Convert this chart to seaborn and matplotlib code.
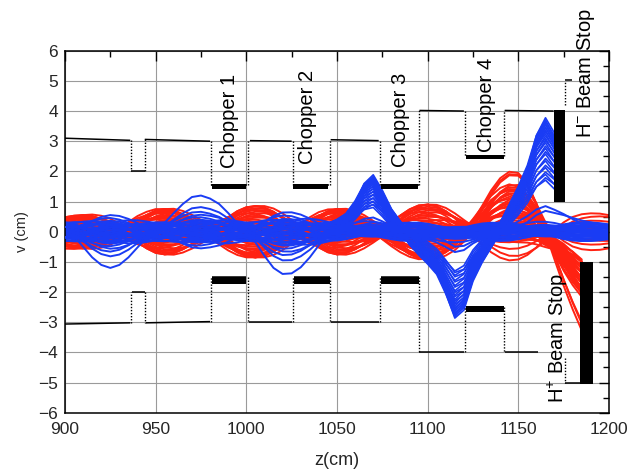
import matplotlib
matplotlib.use("Agg")
import matplotlib.pyplot as plt
from matplotlib.ticker import MultipleLocator
import numpy as np
import pandas as pd
import seaborn as sns

# ---------------- data ----------------
z_cm = [900, 905, 910, 915, 920, 925, 930, 935, 940, 945, 950, 955, 960, 965, 970,
        975, 980, 985, 990, 995, 1000, 1005, 1010, 1015, 1020, 1025, 1030, 1035, 1040,
        1045, 1050, 1055, 1060, 1065, 1070, 1075, 1080, 1085, 1090, 1095, 1100, 1105,
        1110, 1115, 1120, 1125, 1130, 1135, 1140, 1145, 1150, 1155, 1160, 1165, 1170,
        1175, 1180, 1185, 1190, 1195, 1200]

# red beam: cosine-like and sine-like principal rays, and end deflection ray
red_cos = [-0.48, -0.53, -0.55, -0.52, -0.42, -0.27, -0.08, 0.12, 0.35, 0.55, 0.70, 0.75,
           0.71, 0.58, 0.40, 0.20, 0.00, -0.24, -0.48, -0.68, -0.81, -0.85, -0.80, -0.66,
           -0.45, -0.20, 0.05, 0.30, 0.52, 0.68, 0.75, 0.71, 0.58, 0.39, 0.17, -0.05,
           -0.30, -0.54, -0.74, -0.87, -0.90, -0.84, -0.68, -0.45, -0.17, 0.12, 0.42,
           0.68, 0.86, 0.95, 0.92, 0.77, 0.52, 0.22, -0.06, -0.31, -0.49, -0.58, -0.61,
           -0.60, -0.55]
red_sin = [-0.08, -0.04, 0.00, 0.05, 0.11, 0.16, 0.19, 0.20, 0.17, 0.11, 0.05, 0.00,
           -0.05, -0.11, -0.16, -0.19, -0.20, -0.18, -0.14, -0.09, -0.04, 0.00, 0.05,
           0.11, 0.16, 0.19, 0.20, 0.18, 0.13, 0.06, 0.00, -0.05, -0.11, -0.16, -0.19,
           -0.20, -0.18, -0.14, -0.09, -0.04, 0.00, 0.05, 0.11, 0.16, 0.19, 0.20, 0.18,
           0.13, 0.07, 0.02, -0.03, -0.09, -0.15, -0.19, -0.20, -0.18, -0.13, -0.08,
           -0.04, 0.00, 0.04]
red_kick = [0, 0, 0, 0, 0, 0, 0, 0, 0, 0, 0, 0, 0, 0, 0, 0, 0, 0, 0, 0, 0, 0, 0, 0,
            0, 0, 0, 0, 0, 0, 0, 0, 0, 0, 0, 0, 0, 0, 0, 0, 0, 0, 0, 0,
            0.03, 0.10, 0.22, 0.38, 0.52, 0.60, 0.60, 0.50, 0.25, -0.10, -0.45, -0.80,
            -1.15, -1.50, -1.85, -2.20, -2.50]

# blue beam: principal rays and chopper kick ray
blue_cos = [0.05, -0.15, -0.50, -0.85, -1.10, -1.20, -1.10, -0.85, -0.52, -0.20, 0.05,
            0.30, 0.62, 0.92, 1.15, 1.20, 1.10, 0.92, 0.62, 0.28, 0.00, -0.35, -0.80,
            -1.20, -1.40, -1.38, -1.18, -0.85, -0.45, -0.10, 0.10, 0.22, 0.30, 0.35,
            0.34, 0.28, 0.19, 0.09, 0.00, -0.10, -0.20, -0.28, -0.33, -0.35, -0.33,
            -0.26, -0.17, -0.07, 0.03, 0.13, 0.22, 0.29, 0.33, 0.33, 0.29, 0.22, 0.13,
            0.04, -0.05, -0.13, -0.20]
blue_sin = [0.30, 0.30, 0.26, 0.18, 0.08, 0.00, -0.08, -0.17, -0.25, -0.29, -0.30,
            -0.28, -0.22, -0.14, -0.06, 0.00, 0.06, 0.15, 0.23, 0.28, 0.30, 0.28, 0.22,
            0.12, 0.03, -0.04, -0.13, -0.22, -0.28, -0.30, -0.28, -0.22, -0.13, -0.04,
            0.04, 0.12, 0.20, 0.27, 0.30, 0.29, 0.24, 0.16, 0.08, 0.01, -0.06, -0.15,
            -0.23, -0.28, -0.30, -0.28, -0.22, -0.14, -0.05, 0.02, 0.10, 0.19, 0.26,
            0.30, 0.30, 0.27, 0.22]
blue_kick = [0, 0, 0, 0, 0, 0, 0, 0, 0, 0, 0, 0, 0, 0, 0, 0, 0, 0, 0, 0, 0, 0, 0, 0,
             0, 0, 0, 0, 0,
             0.08, 0.25, 0.50, 0.98, 1.60, 1.85, 1.30, 0.65, 0.20, -0.25, -0.60, -0.95,
             -1.35, -2.05, -2.85, -2.55, -1.55, -0.90, -0.38, 0.12, 0.75, 1.40, 2.15,
             3.20, 3.75, 3.20, 2.60, 1.90, 1.30, 0.90, 0.50, 0.25]

# particles: weights on the principal rays (a, b) and on the kick ray (k)
red_a = [-1.0, -1.0, -0.92, -0.85, -0.78, -0.7, -0.7, -0.62, -0.55, -0.48, -0.4, -0.4,
         -0.32, -0.25, -0.18, -0.1, -0.1, -0.03, 0.05, 0.12, 0.2, 0.2, 0.28, 0.35,
         0.42, 0.5, 0.5, 0.58, 0.65, 0.72, 0.8, 0.8, 0.86, 0.92, 1.0, 1.0,
         1.0, 0.95, 0.9,
         -0.6, -0.2, 0.3, 0.7, 1.0, -1.0, -0.85, 0.5]
red_b = [0.0, 1.0, 0.4, -0.5, 0.8, 1.0, -1.0, 0.2, 0.5, -0.6, -1.0, 1.0,
         0.3, 0.0, -0.4, -1.0, 1.0, 0.6, 0.5, -0.3, -1.0, 1.0, 0.2, 0.0,
         -0.7, -1.0, 1.0, 0.3, 0.5, -0.5, -1.0, 1.0, 0.0, 0.0, 1.0, -1.0,
         0.0, 0.3, -0.3,
         0.0, 0.5, -0.5, 0.0, 0.0, 0.0, 0.6, -0.8]
red_k = [1, 1, 1, 1, 1, 1, 1, 1, 1, 1, 1, 1,
         1, 1, 1, 1, 1, 1, 1, 1, 1, 1, 1, 1,
         1, 1, 1, 1, 1, 1, 1, 1, 1, 1, 1, 1,
         1.6, 1.8, 1.7,
         0, 0, 0, 0, 0, 0, 0, 0]

blue_a = [1.0, 0.68, 0.55, 0.47, 0.40, 0.33, -0.30, -0.38, -0.46,
          -0.25, -0.25, -0.25, -0.18, -0.18, -0.12, -0.12, -0.12, -0.06, -0.06,
          0.0, 0.0, 0.0, 0.06, 0.06, 0.12, 0.12, 0.12, 0.18, 0.18, 0.25, 0.25, 0.25,
          0.30, -0.20]
blue_b = [0.0, 0.1, -0.1, 0.2, -0.2, 0.0, 0.0, 0.2, -0.2,
          -1.0, 0.0, 0.8, -0.5, 0.5, -0.8, 0.0, 1.0, -0.3, 0.6,
          -1.0, -0.5, 0.5, 0.2, -0.7, -1.0, 0.0, 0.7, -0.4, 0.9, -0.5, 0.3, 1.0,
          0.0, 0.4]
blue_k = [0, 0, 0, 0, 0, 0, 0, 0, 0,
          0, 0, 0, 0, 0, 0, 0, 0, 0, 0,
          0, 0, 0, 0, 0, 0, 0, 0, 0, 0, 0, 0, 0,
          0.2, 0.2]
# chopped bunch: kick strengths and core particles
blue_kick_levels = [1.0, 0.97, 0.94, 0.91, 0.88, 0.84, 0.80, 0.75, 0.70, 0.64,
                    0.58, 0.52, 0.47]
blue_kicked_a = [0.05, -0.12]
blue_kicked_b = [0.5, -0.6]

# aperture geometry (z0, z1, y0, y1)
aperture_solid = [(900, 936, 3.10, 3.03), (936.5, 944, 2.0, 2.0), (944, 980, 3.06, 3.0),
                  (980.5, 1000.5, 1.55, 1.55), (1002, 1025, 3.02, 3.0),
                  (1026, 1045.5, 1.55, 1.55), (1046.5, 1073, 3.05, 3.02),
                  (1074.5, 1095, 1.55, 1.55), (1095.5, 1120, 4.02, 4.0),
                  (1121, 1142, 2.52, 2.52), (1142.5, 1169.5, 4.02, 4.0),
                  (1176, 1179.5, 5.02, 5.02),
                  (900, 936, -3.06, -3.02), (937, 944, -2.0, -2.0), (944.5, 980, -3.02, -2.98),
                  (981, 1000, -1.5, -1.5), (1001.5, 1025, -3.0, -3.0),
                  (1026.5, 1046, -1.5, -1.5), (1046.5, 1073, -3.0, -3.0),
                  (1074.5, 1095, -1.5, -1.5), (1095.5, 1120, -4.0, -4.0),
                  (1121, 1142, -2.48, -2.48), (1142.5, 1161, -4.0, -4.0),
                  (1176, 1184, -5.0, -5.0)]
# dotted transitions (z, y0, y1)
aperture_dotted = [(936.3, 3.03, 2.0), (944, 2.0, 3.06), (980.3, 3.0, 1.55),
                   (1001, 1.55, 3.02), (1025.5, 3.0, 1.55), (1046, 1.55, 3.05),
                   (1073.8, 3.02, 1.55), (1095, 1.55, 4.02), (1120.5, 4.0, 2.52),
                   (1142, 2.52, 4.02), (1176, 4.2, 5.0),
                   (936.5, -3.02, -2.0), (944, -2.0, -3.02), (980.3, -2.98, -1.5),
                   (1001, -1.5, -3.0), (1025.8, -3.0, -1.5), (1046, -1.5, -3.0),
                   (1073.8, -3.0, -1.5), (1095, -1.5, -4.0), (1120.8, -4.0, -2.48),
                   (1142, -2.48, -4.0), (1176, -4.2, -5.0)]
# chopper plates and beam stops (z0, z1, ybottom, ytop)
plates = [(981, 1000, 1.42, 1.58), (1026, 1045, 1.42, 1.58), (1074.5, 1094.5, 1.42, 1.58),
          (1121, 1142, 2.40, 2.55),
          (981, 1000, -1.72, -1.50), (1026.5, 1046, -1.72, -1.50),
          (1074.5, 1095, -1.72, -1.50), (1121, 1142, -2.65, -2.47)]
beam_stops = [(1169.7, 1175.7, 1.0, 4.03), (1184.0, 1191.3, -5.05, -1.0)]

labels = ["Chopper 1", "Chopper 2", "Chopper 3", "Chopper 4",
          "H$^{-}$ Beam Stop", "H$^{+}$ Beam Stop"]
label_z = [990.5, 1034.0, 1085.3, 1132.2, 1187.3, 1171.9]
label_y = [2.10, 2.25, 2.15, 2.65, 3.10, -5.68]

x_ticks = [900, 950, 1000, 1050, 1100, 1150, 1200]
y_ticks = [-6, -5, -4, -3, -2, -1, 0, 1, 2, 3, 4, 5, 6]

# ---------------- build trajectories ----------------
for arr in (red_cos, red_sin, red_kick, blue_cos, blue_sin, blue_kick):
    assert len(arr) == len(z_cm), len(arr)
assert len(red_a) == len(red_b) == len(red_k)
assert len(blue_a) == len(blue_b) == len(blue_k)

zc = np.array(z_cm, dtype=float)


def build(particles, cos_, sin_, kick, z_stop, k_min, name, start_id):
    c, s, d = np.array(cos_), np.array(sin_), np.array(kick)
    rows = []
    pid = start_id
    for a, b, k in particles:
        y = a * c + b * s + k * d
        keep = zc <= z_stop if abs(k) >= k_min else zc <= 1200
        for zz, yy in zip(zc[keep], y[keep]):
            rows.append((zz, yy, name, pid))
        pid += 1
    return pd.DataFrame(rows, columns=["z", "y", "beam", "pid"])


red_particles = list(zip(red_a, red_b, red_k))
blue_particles = list(zip(blue_a, blue_b, blue_k))
blue_kicked = []
for k in blue_kick_levels:
    for a, b in zip(blue_kicked_a, blue_kicked_b):
        blue_kicked.append((a, b, k))

df_red = build(red_particles, red_cos, red_sin, red_kick, 1185, 0.5, "red", 0)
df_blue = build(blue_particles, blue_cos, blue_sin, blue_kick, 1170, 0.45, "blue", 1000)
df_kick = build(blue_kicked, blue_cos, blue_sin, blue_kick, 1170, 0.45, "blue", 2000)

# ---------------- plot ----------------
sns.set_theme(style="white")
plt.rcParams["font.family"] = ["Liberation Sans", "DejaVu Sans"]
plt.rcParams["mathtext.fontset"] = "custom"
plt.rcParams["mathtext.rm"] = "Liberation Sans"
plt.rcParams["mathtext.it"] = "Liberation Sans:italic"
plt.rcParams["axes.unicode_minus"] = True

fig = plt.figure(figsize=(6.39, 4.72), dpi=100)
ax = fig.add_axes([0.1017, 0.1256, 0.8513, 0.7669])

sns.lineplot(data=df_red, x="z", y="y", units="pid", estimator=None, color="#ff2212",
             linewidth=1.4, sort=False, legend=False, ax=ax, zorder=2)
sns.lineplot(data=df_blue, x="z", y="y", units="pid", estimator=None, color="#1a3cf4",
             linewidth=1.4, sort=False, legend=False, ax=ax, zorder=2.5)
sns.lineplot(data=df_kick, x="z", y="y", units="pid", estimator=None, color="#1a3cf4",
             linewidth=1.2, sort=False, legend=False, ax=ax, zorder=2.6)

for z0, z1, y0, y1 in aperture_solid:
    ax.plot([z0, z1], [y0, y1], color="black", lw=1.1, solid_capstyle="butt", zorder=3)
for zz, y0, y1 in aperture_dotted:
    ax.plot([zz, zz], [y0, y1], color="black", lw=1.0, ls=(0, (1, 1.2)), zorder=3)
for z0, z1, yb, yt in plates:
    ax.fill_between([z0, z1], [yb, yb], [yt, yt], color="black", lw=0, zorder=3)
for z0, z1, yb, yt in beam_stops:
    ax.fill_between([z0, z1], [yb, yb], [yt, yt], color="black", lw=0, zorder=4)

for txt, zz, yy in zip(labels, label_z, label_y):
    ax.text(zz, yy, txt, rotation=90, ha="center", va="bottom", fontsize=14.5,
            color="black", zorder=5)

ax.set_xlim(900, 1200)
ax.set_ylim(-6, 6)
ax.set_xticks(x_ticks)
ax.set_yticks(y_ticks)
ax.xaxis.set_minor_locator(MultipleLocator(25))
ax.yaxis.set_minor_locator(MultipleLocator(0.5))
ax.tick_params(which="both", direction="in", top=True, right=True, color="black")
ax.tick_params(which="major", length=7, width=1.0, labelsize=12.5)
ax.tick_params(axis="x", which="major", pad=7)
ax.tick_params(axis="y", which="major", pad=5)
ax.tick_params(which="minor", length=4.5, width=1.0)
ax.grid(True, which="major", color="#9a9a9a", lw=0.8)
ax.set_axisbelow(True)
for sp in ax.spines.values():
    sp.set_color("black")
    sp.set_linewidth(1.1)

ax.set_xlabel("z(cm)", fontsize=13)
ax.set_ylabel("v (cm)", fontsize=10.5)
ax.xaxis.set_label_coords(0.5, -0.108)
ax.yaxis.set_label_coords(-0.066, 0.5)

fig.savefig("out.png", dpi=100)
